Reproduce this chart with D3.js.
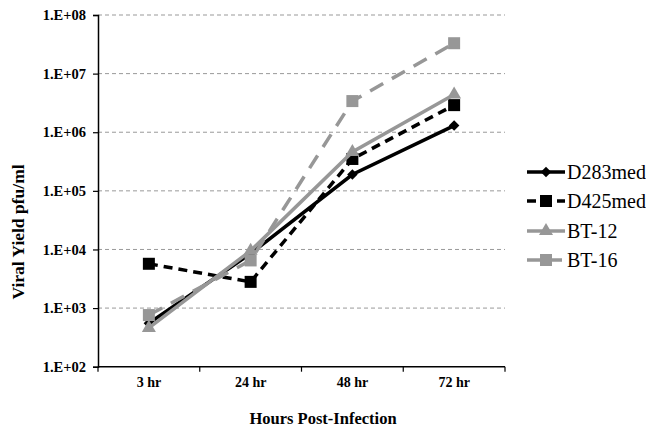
<!DOCTYPE html>
<html><head><meta charset="utf-8">
<script src="https://cdn.jsdelivr.net/npm/d3@7"></script>
<style>body{margin:0;background:#fff}svg{display:block}text{font-family:"Liberation Serif","DejaVu Serif",serif}</style>
</head><body><svg id="c" width="646" height="429"></svg>
<script>
const categories = ["3 hr", "24 hr", "48 hr", "72 hr"];
const seriesNames = ["D283med", "D425med", "BT-12", "BT-16"];
const d283med = [5.5e2, 8.5e3, 1.9e5, 1.3e6];
const d425med = [5.7e3, 2.8e3, 3.5e5, 2.9e6];
const bt12 = [4.6e2, 9.5e3, 4.6e5, 4.4e6];
const bt16 = [7.6e2, 6.5e3, 3.4e6, 3.3e7];
const yTicks = [1e2, 1e3, 1e4, 1e5, 1e6, 1e7, 1e8];
const yTickLabels = ["1.E+02","1.E+03","1.E+04","1.E+05","1.E+06","1.E+07","1.E+08"];

const svg = d3.select("#c");
const L = 98, R = 505, T = 15, B = 366.7;
const x = d3.scaleBand().domain(categories).range([L, R]);
const y = d3.scaleLog().domain([1e2, 1e8]).range([B, T]);
const gray = "#979797";

const styles = [
  {name: seriesNames[0], vals: d283med, color: "#000", dash: null, marker: "diamond"},
  {name: seriesNames[1], vals: d425med, color: "#000", dash: "9,6", marker: "square"},
  {name: seriesNames[2], vals: bt12, color: gray, dash: null, marker: "triangle"},
  {name: seriesNames[3], vals: bt16, color: gray, dash: "15,10", marker: "square"}
];

// gridlines
svg.append("g").selectAll("line").data(yTicks.slice(1)).join("line")
  .attr("x1", L).attr("x2", R).attr("y1", d => y(d)).attr("y2", d => y(d))
  .attr("stroke", "#999").attr("stroke-width", 1).attr("stroke-dasharray", "4,3");

// y axis
const yAxis = d3.axisLeft(y).tickValues(yTicks).tickFormat((d, i) => yTickLabels[i]).tickSize(5).tickPadding(7);
const gy = svg.append("g").attr("transform", `translate(${L},0)`).call(yAxis);
gy.attr("font-family", null).attr("font-size", null);
gy.select(".domain").attr("stroke", "#000").attr("stroke-width", 1.5);
gy.selectAll(".tick line").attr("stroke", "#000").attr("stroke-width", 1.2);
gy.selectAll("text").attr("font-weight", "bold").attr("font-size", 14.5).attr("fill", "#000");

// x axis
const gx = svg.append("g").attr("transform", `translate(0,${B})`);
gx.append("line").attr("x1", L).attr("x2", R).attr("stroke", "#000").attr("stroke-width", 1.5);
const bounds = categories.map(c => x(c)).concat([R]);
gx.selectAll("line.tk").data(bounds).join("line").attr("class", "tk")
  .attr("x1", d => d).attr("x2", d => d).attr("y1", 0).attr("y2", 5)
  .attr("stroke", "#000").attr("stroke-width", 1.2);
gx.selectAll("text").data(categories).join("text")
  .attr("x", d => x(d) + x.bandwidth() / 2).attr("y", 20.5)
  .attr("text-anchor", "middle").attr("font-weight", "bold")
  .attr("font-size", 14).text(d => d);

// axis titles
svg.append("text").attr("x", 323).attr("y", 424).attr("text-anchor", "middle")
  .attr("font-weight", "bold").attr("font-size", 16.5).text("Hours Post-Infection");
svg.append("text").attr("transform", "translate(24,232) rotate(-90)").attr("text-anchor", "middle")
  .attr("font-weight", "bold").attr("font-size", 17.5).text("Viral Yield pfu/ml");

function marker(g, type, cx, cy, color) {
  if (type === "diamond") {
    g.append("path").attr("d", d3.symbol(d3.symbolDiamond2, 70)()).attr("transform", `translate(${cx},${cy})`).attr("fill", color);
  } else if (type === "square") {
    g.append("rect").attr("x", cx - 6).attr("y", cy - 6).attr("width", 12).attr("height", 12).attr("fill", color);
  } else {
    g.append("path").attr("d", d3.symbol(d3.symbolTriangle, 85)()).attr("transform", `translate(${cx},${cy})`).attr("fill", color);
  }
}

const line = d3.line().x((d, i) => x(categories[i]) + x.bandwidth() / 2).y(d => y(d));
const plot = svg.append("g");
styles.forEach(s => {
  const g = plot.append("g");
  g.append("path").datum(s.vals).attr("d", line).attr("fill", "none")
    .attr("stroke", s.color).attr("stroke-width", 3.5).attr("stroke-dasharray", s.dash);
  s.vals.forEach((v, i) => marker(g, s.marker, x(categories[i]) + x.bandwidth() / 2, y(v), s.color));
});

// legend
const legY = [172, 201, 231, 260];
const lg = svg.append("g");
styles.forEach((s, i) => {
  const g = lg.append("g");
  g.append("line").attr("x1", 527).attr("x2", 565).attr("y1", legY[i]).attr("y2", legY[i])
    .attr("stroke", s.color).attr("stroke-width", 3.5).attr("stroke-dasharray", s.dash ? (i === 1 ? "9,6" : "15,5") : null);
  marker(g, s.marker, 546, legY[i], s.color);
  g.append("text").attr("x", 567).attr("y", legY[i] + 7)
    .attr("font-size", 20).text(s.name);
});
</script></body></html>
